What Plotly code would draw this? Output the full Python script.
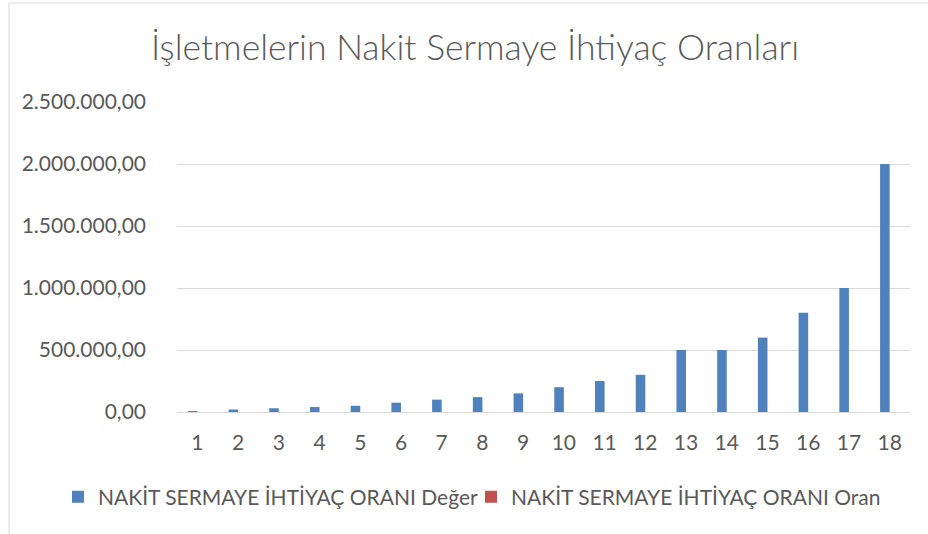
import plotly.graph_objects as go

categories = [str(i) for i in range(1, 19)]
deger_values = [8000, 20000, 30000, 40000, 50000, 75000, 100000, 120000, 150000,
                200000, 250000, 300000, 500000, 500000, 600000, 800000, 1000000, 2000000]
oran_values = [0] * 18
series_names = ["NAKİT SERMAYE İHTİYAÇ ORANI Değer", "NAKİT SERMAYE İHTİYAÇ ORANI Oran"]
title_text = "İşletmelerin Nakit Sermaye İhtiyaç Oranları"
y_ticks = [0, 500000, 1000000, 1500000, 2000000, 2500000]

FONT = "Lato"
GREY = "#595959"

fig = go.Figure()
fig.add_trace(go.Bar(x=categories, y=deger_values, name=series_names[0], legend="legend",
                     marker=dict(color="#4f81bd", line=dict(width=0))))
fig.add_trace(go.Bar(x=categories, y=oran_values, name=series_names[1], legend="legend2",
                     marker=dict(color="#c0504d", line=dict(width=0))))

leg_common = dict(orientation="h", xanchor="left", xref="container",
                  y=1 - 497 / 534, yref="container", yanchor="middle",
                  font=dict(family=FONT, size=21, color=GREY),
                  itemwidth=30, bgcolor="rgba(0,0,0,0)")

fig.update_layout(
    width=928, height=534,
    paper_bgcolor="white", plot_bgcolor="white",
    separators=",.",
    barmode="group", bargap=0.53, bargroupgap=0,
    margin=dict(l=177, r=18, t=102, b=122, autoexpand=False),
    font=dict(family=FONT, color=GREY, size=21),
    title=dict(text=title_text, x=475 / 928, xanchor="center", xref="container",
               y=1 - 48 / 534, yref="container", yanchor="middle",
               font=dict(family=FONT, size=35.5, color=GREY, weight=300)),
    legend=dict(x=58 / 928, **leg_common),
    legend2=dict(x=471 / 928, **leg_common),
    showlegend=True,
)
fig.update_xaxes(type="category", showgrid=False, showline=True, linecolor="#d9d9d9",
                 linewidth=1, ticks="", ticklabelstandoff=12,
                 tickfont=dict(family=FONT, size=21, color=GREY))
fig.update_yaxes(range=[0, 2500000], tickvals=y_ticks, tickformat=",.2f",
                 showgrid=True, gridcolor="#d9d9d9", gridwidth=1, zeroline=False,
                 showline=False, ticks="", ticklabelstandoff=30,
                 tickfont=dict(family=FONT, size=21, color=GREY))
fig.add_shape(type="rect", xref="paper", yref="paper",
              x0=-168 / 733, x1=1.1, y0=-0.5, y1=(534 - 3 - 122) / 310,
              line=dict(color="#d9d9d9", width=1), fillcolor="rgba(0,0,0,0)", layer="below")
fig.write_html("out.html", config={"displayModeBar": False},
               post_script="document.body.style.margin='0';document.body.style.overflow='hidden';")
